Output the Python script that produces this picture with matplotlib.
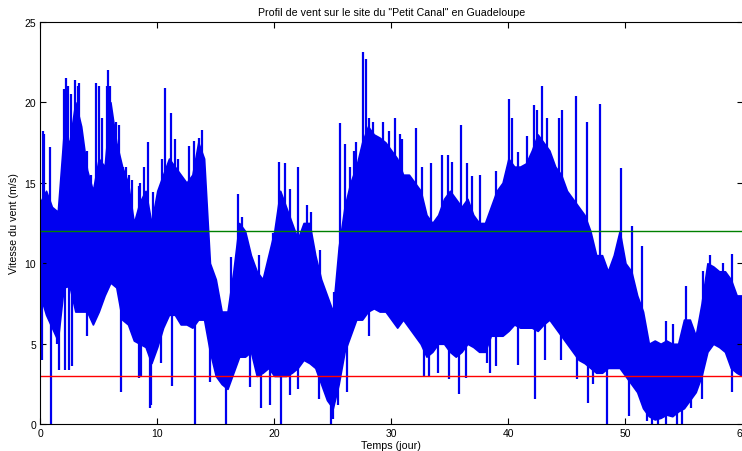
import numpy as np
import matplotlib
matplotlib.use("Agg")
import matplotlib.pyplot as plt

plt.rcParams["font.family"] = ["Liberation Sans", "DejaVu Sans"]

# body of the wind signal, read every half day: upper and lower edge (m/s)
days = np.arange(0, 60.5, 0.5)
body_hi = [13.8, 14.5, 13.5, 13.2, 18.0, 17.5, 20.0, 18.5, 15.8, 14.5,
           16.5, 16.0, 20.0, 17.5, 16.0, 15.0, 12.5, 13.8, 14.5, 12.5,
           14.5, 15.5, 16.5, 16.0, 15.5, 15.0, 15.5, 17.5, 16.5, 10.0,
           9.0, 7.0, 7.0, 9.5, 12.5, 12.0, 10.5, 9.5, 9.0, 10.5,
           12.0, 14.5, 13.5, 12.5, 11.5, 12.5, 12.5, 10.5, 9.0, 8.0,
           7.0, 11.0, 13.5, 15.0, 16.0, 17.5, 18.5, 18.0, 17.8, 17.5,
           17.0, 16.5, 15.5, 15.5, 15.0, 14.5, 13.0, 12.5, 13.0, 14.0,
           14.5, 14.0, 13.5, 14.0, 13.0, 12.5, 12.5, 13.5, 14.5, 15.0,
           16.5, 16.0, 16.0, 16.2, 17.0, 18.0, 17.5, 17.0, 16.0, 15.5,
           14.5, 14.0, 13.5, 13.0, 12.0, 10.5, 10.5, 9.5, 10.5, 12.0,
           10.0, 9.5, 8.0, 7.0, 5.0, 5.2, 5.0, 5.2, 5.0, 5.0,
           6.5, 6.5, 5.5, 7.5, 10.0, 9.8, 9.5, 9.5, 9.0, 8.0,
           8.0]
body_lo = [8.0, 6.8, 6.0, 5.2, 8.5, 8.6, 7.0, 7.0, 7.0, 6.2,
           7.0, 8.0, 8.8, 8.5, 6.5, 6.2, 5.2, 5.0, 4.8, 3.8,
           4.8, 6.0, 6.8, 6.8, 6.2, 6.2, 6.0, 6.5, 6.5, 4.5,
           3.0, 2.5, 2.2, 3.2, 4.2, 4.2, 4.5, 3.0, 3.2, 3.5,
           3.0, 3.0, 3.0, 3.2, 3.5, 4.0, 3.8, 3.5, 2.5, 1.5,
           1.0, 2.5, 4.5, 5.5, 6.5, 6.5, 7.0, 7.2, 7.0, 7.0,
           6.5, 6.0, 6.5, 6.0, 5.5, 5.0, 4.2, 4.5, 5.0, 5.0,
           4.5, 4.2, 4.5, 5.0, 4.8, 4.5, 4.5, 5.5, 5.5, 5.5,
           5.8, 6.2, 6.0, 6.0, 6.0, 5.8, 6.2, 6.5, 6.0, 5.5,
           5.0, 4.5, 4.0, 3.8, 3.5, 3.2, 3.2, 3.5, 3.5, 3.5,
           3.0, 2.5, 2.0, 1.0, 0.5, 0.3, 0.4, 0.6, 0.5, 0.8,
           1.0, 1.5, 2.0, 3.0, 4.5, 5.0, 4.8, 4.5, 3.5, 3.2,
           3.0]

# narrow gusts above the body
gust_t = [0.2, 0.35, 0.8, 2.0, 2.2, 2.4, 2.6, 3.0, 3.2, 3.3, 4.0, 4.3, 4.8,
          5.0, 5.3, 5.7, 5.83, 6.0, 6.5, 6.7, 7.1, 7.3, 7.6, 7.8, 8.4, 8.5,
          8.9, 9.2, 9.6, 10.4, 10.7, 11.2, 11.5, 11.8, 12.7, 13.1, 13.6, 13.8,
          16.3, 16.9, 17.2, 18.7, 19.9, 20.4, 20.9, 21.3, 22.0, 22.8, 23.1,
          23.9, 25.1, 25.6, 26.0, 26.5, 26.8, 27.0, 27.6, 27.8, 28.1, 28.4,
          29.3, 29.8, 30.3, 30.7, 30.95, 32.1, 32.6, 33.4, 34.3, 34.8, 35.2,
          35.95, 36.5, 36.9, 37.6, 38.9, 39.6, 40.06, 40.3, 40.8, 41.6, 42.2,
          42.4, 42.9, 43.3, 44.3, 44.6, 45.8, 46.7, 47.8, 49.6, 50.6, 51.4,
          53.5, 54.1, 55.2, 56.6, 57.2, 58.3, 59.1]
gust_v = [18.2, 18.0, 17.2, 20.8, 21.5, 21.0, 20.5, 21.4, 21.0, 21.2, 17.0, 15.5, 21.2,
          21.0, 19.0, 21.0, 22.0, 21.0, 18.8, 18.6, 16.0, 16.0, 15.5, 15.2, 14.8, 15.0,
          16.0, 17.5, 14.4, 16.5, 20.9, 19.3, 17.7, 16.5, 17.3, 17.6, 17.8, 18.3,
          10.4, 14.3, 12.9, 10.5, 11.9, 16.3, 16.2, 14.6, 16.0, 13.6, 13.2,
          10.8, 8.2, 18.7, 17.4, 16.0, 17.0, 17.5, 23.1, 22.7, 19.0, 18.8,
          18.8, 18.2, 19.0, 18.0, 17.7, 18.4, 16.0, 16.2, 16.7, 16.7, 16.3,
          18.6, 16.2, 15.4, 15.5, 15.7, 14.6, 20.2, 19.0, 16.9, 17.9, 19.8,
          19.5, 21.0, 19.0, 19.0, 19.5, 20.4, 18.8, 19.9, 15.9, 12.3, 11.1,
          6.4, 6.2, 8.6, 9.5, 10.5, 10.0, 10.6]

# narrow lulls below the body
lull_t = [0.15, 0.9, 1.4, 1.6, 2.1, 2.5, 2.7, 4.0, 6.9, 8.4, 8.65, 9.4, 9.5,
          10.3, 11.3, 13.2, 14.5, 15.9, 17.9, 18.9, 19.6, 20.6, 21.3, 22.0,
          23.8, 24.8, 25.0, 25.4, 26.2, 28.1, 32.8, 33.2, 34.0, 34.9, 35.8,
          36.4, 38.2, 38.4, 38.9, 40.8, 42.3, 43.1, 44.5, 45.9, 46.8, 47.2,
          48.4, 50.3, 51.8, 52.3, 52.8, 53.5, 54.4, 54.8, 55.6, 56.5, 59.1]
lull_v = [4.0, 0.0, 5.0, 3.4, 3.4, 3.4, 3.6, 5.5, 2.0, 2.9, 3.0, 1.0, 1.2,
          3.8, 2.4, 0.0, 2.6, 0.0, 2.3, 1.0, 1.2, 0.0, 1.8, 2.2,
          1.6, 0.0, 0.3, 1.2, 2.0, 5.5, 3.0, 3.0, 3.2, 2.8, 1.9,
          2.9, 3.8, 3.2, 3.6, 3.7, 1.6, 4.0, 4.0, 2.8, 1.3, 2.5,
          0.0, 0.5, 0.2, 0.0, 0.0, 0.0, 0.0, 0.0, 1.0, 1.6, 2.0]

v_nominal = 12
v_start = 3

blue = "#0000f0"
fig = plt.figure(figsize=(7.42, 4.52), dpi=100)
ax = fig.add_axes([0.0542, 0.0591, 0.9465, 0.8907])

mid = (np.array(body_hi) + np.array(body_lo)) / 2
ax.fill_between(days, body_lo, body_hi, color=blue, lw=1.2, edgecolor=blue)
ax.vlines(gust_t, np.interp(gust_t, days, mid), gust_v, color=blue, lw=1.6)
ax.vlines(lull_t, lull_v, np.interp(lull_t, days, mid), color=blue, lw=1.6)

ax.axhline(v_nominal, color="#008000", lw=1)
ax.axhline(v_start, color="#ff0000", lw=1)

ax.set_xlim(0, 60)
ax.set_ylim(0, 25)
ax.set_xticks(range(0, 61, 10))
ax.set_yticks(range(0, 26, 5))
ax.tick_params(direction="in", length=4, labelsize=7.5, top=True, right=True, pad=3)
for s in ax.spines.values():
    s.set_linewidth(0.8)

ax.set_title('Profil de vent sur le site du "Petit Canal" en Guadeloupe', fontsize=7.7, pad=5)
ax.set_xlabel("Temps (jour)", fontsize=7.7, labelpad=1)
ax.set_ylabel("Vitesse du vent (m/s)", fontsize=7.7, labelpad=4)

fig.savefig("out.png", dpi=100)
